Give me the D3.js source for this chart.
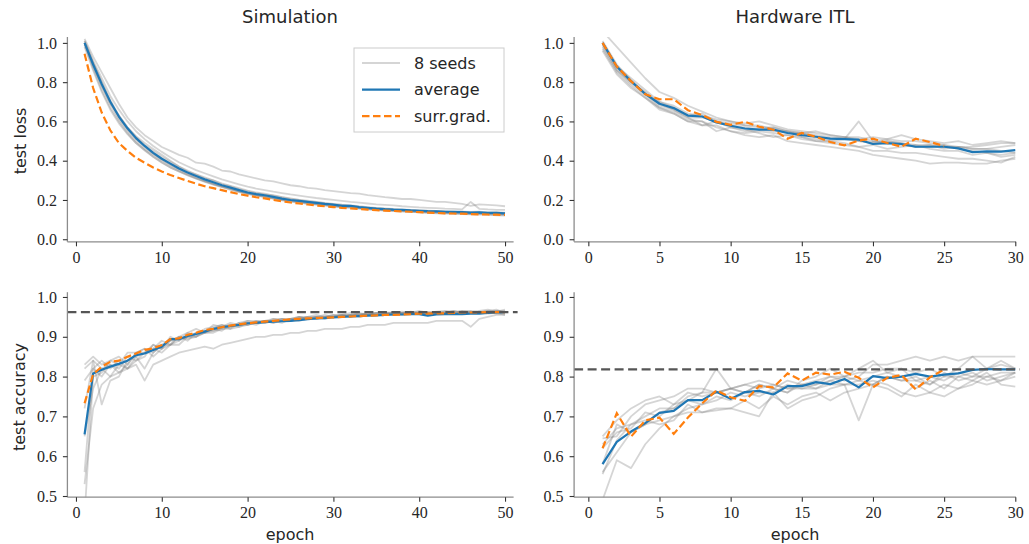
<!DOCTYPE html>
<html>
<head>
<meta charset="utf-8">
<script src="https://cdn.jsdelivr.net/npm/d3@7"></script>
<style>
  body { margin: 0; background: #fff; }
  .lab { font-family: "DejaVu Sans", sans-serif; fill: #262626; }
</style>
</head>
<body>
<svg id="fig" width="1029" height="544"></svg>
<script>
// epochs
const simEpochs = d3.range(1, 51);
const hwEpochs = d3.range(1, 31);

// ---- simulation, test loss ----
const simLossAvg = [1.00,0.89,0.79,0.70,0.625,0.565,0.515,0.475,0.44,0.41,0.385,0.36,0.34,0.322,0.305,0.29,0.275,0.263,0.25,0.238,0.23,0.224,0.216,0.207,0.2,0.195,0.19,0.185,0.18,0.176,0.17,0.17,0.164,0.16,0.156,0.153,0.151,0.15,0.147,0.145,0.143,0.142,0.14,0.139,0.138,0.136,0.137,0.134,0.134,0.132];
const simLossSG = [0.945,0.77,0.645,0.555,0.49,0.45,0.415,0.39,0.365,0.345,0.327,0.312,0.297,0.283,0.27,0.26,0.25,0.24,0.23,0.222,0.214,0.208,0.2,0.193,0.187,0.182,0.177,0.172,0.168,0.164,0.16,0.157,0.154,0.151,0.148,0.146,0.144,0.142,0.14,0.138,0.136,0.134,0.132,0.131,0.13,0.128,0.127,0.126,0.125,0.124];
const simLossSeeds = [
  [1.02,0.93,0.85,0.77,0.69,0.62,0.57,0.53,0.5,0.47,0.45,0.43,0.415,0.39,0.385,0.37,0.35,0.345,0.33,0.32,0.31,0.3,0.295,0.285,0.275,0.27,0.262,0.258,0.25,0.245,0.24,0.235,0.232,0.225,0.22,0.214,0.21,0.205,0.205,0.2,0.195,0.19,0.19,0.185,0.18,0.17,0.178,0.175,0.172,0.168],
  [1.01,0.91,0.82,0.73,0.66,0.6,0.55,0.51,0.475,0.445,0.418,0.392,0.372,0.352,0.336,0.32,0.305,0.292,0.28,0.268,0.258,0.25,0.242,0.235,0.228,0.222,0.216,0.21,0.205,0.2,0.195,0.19,0.186,0.182,0.178,0.175,0.172,0.168,0.165,0.162,0.16,0.158,0.156,0.155,0.152,0.19,0.155,0.152,0.15,0.15],
  [1.0,0.9,0.8,0.71,0.63,0.57,0.52,0.48,0.45,0.42,0.395,0.37,0.35,0.33,0.315,0.3,0.285,0.272,0.26,0.248,0.238,0.232,0.222,0.214,0.206,0.2,0.196,0.19,0.185,0.18,0.176,0.173,0.168,0.164,0.16,0.157,0.154,0.152,0.15,0.148,0.146,0.144,0.143,0.141,0.14,0.139,0.14,0.137,0.138,0.135],
  [0.99,0.87,0.76,0.67,0.6,0.54,0.49,0.455,0.42,0.39,0.365,0.345,0.325,0.308,0.292,0.278,0.265,0.252,0.24,0.23,0.222,0.215,0.208,0.2,0.194,0.188,0.182,0.178,0.172,0.168,0.164,0.162,0.157,0.154,0.15,0.147,0.145,0.143,0.14,0.138,0.136,0.134,0.133,0.131,0.13,0.128,0.13,0.126,0.125,0.124],
  [1.01,0.9,0.8,0.7,0.62,0.56,0.51,0.47,0.435,0.405,0.38,0.356,0.336,0.318,0.3,0.285,0.272,0.26,0.245,0.235,0.226,0.22,0.212,0.203,0.198,0.192,0.186,0.18,0.178,0.172,0.166,0.168,0.16,0.157,0.152,0.15,0.148,0.146,0.143,0.141,0.14,0.138,0.136,0.136,0.134,0.132,0.134,0.13,0.131,0.128],
  [0.98,0.86,0.75,0.66,0.59,0.535,0.49,0.452,0.42,0.392,0.366,0.345,0.328,0.31,0.295,0.28,0.268,0.255,0.242,0.232,0.224,0.216,0.206,0.198,0.19,0.186,0.18,0.176,0.172,0.166,0.162,0.16,0.156,0.152,0.148,0.146,0.143,0.141,0.139,0.137,0.135,0.132,0.13,0.13,0.128,0.127,0.126,0.125,0.122,0.12],
  [1.0,0.88,0.78,0.69,0.63,0.57,0.525,0.49,0.46,0.43,0.4,0.37,0.345,0.33,0.31,0.3,0.28,0.27,0.255,0.245,0.235,0.228,0.225,0.215,0.208,0.2,0.193,0.19,0.183,0.178,0.175,0.17,0.165,0.16,0.158,0.155,0.152,0.148,0.148,0.145,0.142,0.145,0.14,0.138,0.14,0.135,0.136,0.133,0.132,0.13],
  [1.0,0.89,0.78,0.69,0.61,0.55,0.5,0.46,0.43,0.4,0.375,0.35,0.33,0.312,0.296,0.282,0.268,0.256,0.244,0.234,0.225,0.218,0.21,0.202,0.196,0.19,0.185,0.18,0.176,0.17,0.168,0.165,0.16,0.156,0.153,0.15,0.147,0.145,0.143,0.14,0.138,0.137,0.135,0.133,0.132,0.131,0.13,0.128,0.127,0.126]
];

// ---- hardware ITL, test loss ----
const hwLossAvg = [1.0,0.88,0.805,0.74,0.69,0.668,0.63,0.625,0.595,0.578,0.564,0.558,0.558,0.541,0.53,0.522,0.512,0.51,0.507,0.485,0.49,0.485,0.471,0.471,0.471,0.463,0.444,0.448,0.446,0.454];
const hwLossSG = [1.0,0.88,0.805,0.738,0.713,0.713,0.657,0.632,0.598,0.583,0.598,0.573,0.558,0.512,0.541,0.522,0.495,0.478,0.503,0.512,0.49,0.471,0.512,0.495,0.475];
const hwLossSeeds = [
  [1.06,0.98,0.9,0.82,0.75,0.72,0.68,0.65,0.62,0.6,0.58,0.57,0.57,0.55,0.54,0.53,0.52,0.51,0.5,0.495,0.5,0.49,0.48,0.48,0.47,0.47,0.46,0.46,0.45,0.44],
  [0.97,0.85,0.78,0.72,0.67,0.64,0.6,0.6,0.57,0.55,0.53,0.52,0.53,0.5,0.49,0.48,0.47,0.46,0.45,0.43,0.42,0.41,0.4,0.385,0.39,0.39,0.385,0.385,0.4,0.41],
  [0.99,0.86,0.79,0.73,0.67,0.65,0.61,0.6,0.55,0.57,0.55,0.56,0.55,0.55,0.52,0.51,0.5,0.51,0.6,0.5,0.49,0.48,0.47,0.48,0.46,0.47,0.46,0.46,0.47,0.48],
  [1.0,0.87,0.8,0.74,0.7,0.68,0.64,0.63,0.61,0.6,0.59,0.6,0.58,0.56,0.55,0.54,0.53,0.52,0.51,0.52,0.51,0.53,0.51,0.5,0.49,0.5,0.48,0.49,0.5,0.49],
  [0.98,0.86,0.8,0.75,0.69,0.66,0.62,0.58,0.6,0.57,0.56,0.54,0.52,0.53,0.51,0.5,0.5,0.49,0.47,0.48,0.46,0.47,0.48,0.46,0.45,0.45,0.43,0.44,0.42,0.43],
  [1.01,0.89,0.81,0.74,0.68,0.66,0.62,0.62,0.6,0.58,0.57,0.56,0.57,0.55,0.54,0.55,0.53,0.52,0.52,0.5,0.51,0.5,0.5,0.49,0.48,0.47,0.47,0.48,0.49,0.49],
  [0.96,0.84,0.77,0.72,0.66,0.64,0.6,0.58,0.58,0.55,0.54,0.55,0.54,0.53,0.52,0.5,0.49,0.48,0.47,0.45,0.45,0.44,0.44,0.43,0.42,0.41,0.41,0.4,0.39,0.42],
  [1.0,0.88,0.82,0.76,0.7,0.67,0.63,0.64,0.6,0.59,0.58,0.58,0.56,0.54,0.54,0.52,0.51,0.52,0.5,0.49,0.5,0.49,0.47,0.47,0.48,0.46,0.45,0.44,0.43,0.44]
];

// ---- simulation, test accuracy ----
const simAccAvg = [0.655,0.808,0.817,0.825,0.832,0.84,0.854,0.858,0.867,0.875,0.894,0.894,0.902,0.907,0.913,0.92,0.924,0.927,0.93,0.934,0.935,0.937,0.938,0.939,0.94,0.942,0.944,0.946,0.947,0.949,0.95,0.951,0.952,0.953,0.954,0.955,0.956,0.956,0.957,0.957,0.953,0.956,0.957,0.957,0.957,0.958,0.958,0.96,0.961,0.962];
const simAccSG = [0.733,0.806,0.825,0.837,0.84,0.85,0.858,0.867,0.871,0.879,0.894,0.896,0.905,0.91,0.917,0.92,0.924,0.928,0.931,0.934,0.936,0.938,0.94,0.942,0.944,0.945,0.946,0.947,0.948,0.949,0.95,0.951,0.952,0.953,0.954,0.955,0.955,0.956,0.957,0.958,0.958,0.959,0.959,0.96,0.961,0.961,0.961,0.962,0.962,0.962];
const simAccSeeds = [
  [0.53,0.72,0.78,0.8,0.81,0.82,0.83,0.79,0.83,0.84,0.85,0.86,0.865,0.87,0.875,0.87,0.88,0.885,0.89,0.895,0.9,0.9,0.905,0.905,0.91,0.91,0.915,0.915,0.92,0.92,0.92,0.925,0.925,0.93,0.93,0.93,0.935,0.935,0.935,0.935,0.935,0.94,0.94,0.94,0.94,0.925,0.945,0.95,0.955,0.955],
  [0.83,0.85,0.83,0.84,0.85,0.83,0.86,0.87,0.86,0.88,0.89,0.9,0.91,0.9,0.92,0.925,0.93,0.925,0.935,0.94,0.935,0.94,0.945,0.94,0.945,0.95,0.945,0.95,0.955,0.95,0.955,0.96,0.955,0.96,0.96,0.962,0.96,0.963,0.96,0.965,0.96,0.963,0.965,0.96,0.965,0.962,0.965,0.968,0.962,0.965],
  [0.79,0.82,0.8,0.83,0.82,0.85,0.84,0.86,0.88,0.87,0.9,0.89,0.91,0.92,0.91,0.93,0.925,0.935,0.93,0.94,0.94,0.935,0.945,0.945,0.94,0.95,0.95,0.955,0.95,0.955,0.955,0.95,0.96,0.955,0.96,0.958,0.962,0.958,0.963,0.96,0.962,0.958,0.96,0.965,0.96,0.963,0.96,0.965,0.968,0.96],
  [0.45,0.8,0.81,0.84,0.83,0.82,0.85,0.86,0.87,0.86,0.88,0.88,0.9,0.905,0.91,0.915,0.92,0.925,0.93,0.93,0.935,0.94,0.935,0.94,0.945,0.94,0.945,0.95,0.945,0.95,0.955,0.95,0.955,0.955,0.958,0.955,0.96,0.955,0.96,0.962,0.955,0.96,0.962,0.958,0.962,0.96,0.963,0.96,0.965,0.962],
  [0.72,0.84,0.73,0.79,0.8,0.84,0.85,0.82,0.86,0.88,0.88,0.9,0.89,0.91,0.915,0.92,0.915,0.93,0.925,0.935,0.93,0.94,0.94,0.935,0.945,0.945,0.95,0.945,0.95,0.95,0.952,0.955,0.95,0.955,0.955,0.958,0.955,0.96,0.958,0.96,0.955,0.96,0.958,0.962,0.96,0.96,0.962,0.958,0.96,0.955],
  [0.65,0.77,0.82,0.8,0.83,0.86,0.86,0.87,0.85,0.87,0.89,0.895,0.9,0.9,0.91,0.91,0.92,0.92,0.925,0.93,0.935,0.935,0.94,0.94,0.94,0.945,0.945,0.945,0.95,0.95,0.95,0.955,0.952,0.955,0.955,0.955,0.958,0.958,0.958,0.96,0.958,0.958,0.96,0.96,0.958,0.962,0.96,0.962,0.958,0.96],
  [0.56,0.82,0.84,0.82,0.84,0.82,0.84,0.85,0.88,0.87,0.88,0.9,0.895,0.9,0.91,0.92,0.93,0.92,0.935,0.93,0.94,0.94,0.935,0.945,0.945,0.95,0.945,0.95,0.948,0.952,0.955,0.955,0.958,0.955,0.96,0.96,0.955,0.96,0.962,0.96,0.962,0.96,0.963,0.965,0.962,0.965,0.962,0.965,0.963,0.968],
  [0.82,0.84,0.82,0.83,0.81,0.83,0.86,0.86,0.87,0.89,0.88,0.89,0.9,0.91,0.915,0.915,0.925,0.93,0.93,0.935,0.935,0.94,0.94,0.945,0.94,0.945,0.95,0.95,0.95,0.955,0.95,0.955,0.955,0.96,0.955,0.96,0.96,0.96,0.962,0.958,0.96,0.962,0.96,0.96,0.965,0.963,0.96,0.962,0.965,0.963]
];

// ---- hardware ITL, test accuracy ----
const hwAccAvg = [0.58,0.636,0.662,0.683,0.709,0.714,0.741,0.741,0.762,0.744,0.761,0.764,0.755,0.776,0.776,0.786,0.781,0.794,0.773,0.801,0.796,0.8,0.807,0.8,0.805,0.808,0.817,0.819,0.818,0.818];
const hwAccSG = [0.62,0.708,0.649,0.69,0.697,0.656,0.697,0.733,0.765,0.748,0.739,0.776,0.773,0.808,0.79,0.81,0.805,0.812,0.797,0.773,0.797,0.804,0.768,0.798,0.818];
const hwAccSeeds = [
  [0.49,0.59,0.57,0.63,0.67,0.7,0.71,0.71,0.715,0.72,0.71,0.7,0.76,0.72,0.74,0.75,0.77,0.78,0.79,0.78,0.8,0.79,0.8,0.78,0.81,0.79,0.8,0.8,0.81,0.81],
  [0.645,0.65,0.7,0.73,0.74,0.75,0.77,0.77,0.76,0.77,0.78,0.77,0.78,0.77,0.77,0.78,0.79,0.78,0.69,0.78,0.8,0.79,0.79,0.78,0.8,0.8,0.79,0.81,0.78,0.775],
  [0.56,0.61,0.66,0.68,0.69,0.7,0.72,0.73,0.75,0.74,0.76,0.75,0.77,0.76,0.78,0.78,0.8,0.79,0.8,0.83,0.83,0.84,0.85,0.84,0.85,0.84,0.85,0.85,0.85,0.85],
  [0.63,0.67,0.68,0.7,0.72,0.72,0.75,0.76,0.82,0.77,0.76,0.78,0.77,0.79,0.78,0.79,0.8,0.8,0.81,0.81,0.82,0.82,0.81,0.82,0.8,0.82,0.85,0.82,0.84,0.82],
  [0.555,0.64,0.68,0.69,0.68,0.69,0.73,0.71,0.72,0.72,0.74,0.72,0.75,0.73,0.75,0.76,0.74,0.76,0.77,0.78,0.77,0.75,0.78,0.76,0.78,0.77,0.79,0.78,0.79,0.81],
  [0.62,0.66,0.67,0.71,0.7,0.73,0.76,0.75,0.76,0.77,0.76,0.78,0.77,0.76,0.79,0.8,0.82,0.8,0.82,0.84,0.81,0.82,0.79,0.8,0.79,0.81,0.8,0.82,0.83,0.82],
  [0.58,0.68,0.66,0.68,0.71,0.72,0.74,0.76,0.76,0.77,0.78,0.79,0.78,0.77,0.78,0.77,0.79,0.8,0.79,0.8,0.81,0.8,0.77,0.79,0.77,0.8,0.81,0.79,0.8,0.81],
  [0.65,0.69,0.72,0.74,0.75,0.73,0.74,0.73,0.74,0.76,0.75,0.76,0.76,0.78,0.77,0.77,0.78,0.78,0.78,0.79,0.78,0.76,0.75,0.76,0.75,0.77,0.78,0.8,0.79,0.8]
];

// reference accuracy levels (dashed)
const simAccRef = 0.962;
const hwAccRef = 0.818;

const simXTicks = [0, 10, 20, 30, 40, 50];
const hwXTicks = [0, 5, 10, 15, 20, 25, 30];
const lossYTicks = [0.0, 0.2, 0.4, 0.6, 0.8, 1.0];
const accYTicks = [0.5, 0.6, 0.7, 0.8, 0.9, 1.0];

const svg = d3.select("#fig");
const tickFont = "'Liberation Serif', 'DejaVu Serif', 'Times New Roman', serif";

const colLeft = [67.4, 513.6], colRight = [574.1, 1016];
const rowTop = [241.8, 37], rowBot = [497.2, 292.2];

const panels = [
  {id: "tl", xr: colLeft, yr: rowTop, xd: [-1, 51], yd: [-0.013, 1.03], xt: simXTicks, yt: lossYTicks,
   ep: simEpochs, seeds: simLossSeeds, avg: simLossAvg, sg: simLossSG, ref: null},
  {id: "tr", xr: colRight, yr: rowTop, xd: [-1, 30.05], yd: [-0.013, 1.03], xt: hwXTicks, yt: lossYTicks,
   ep: hwEpochs, seeds: hwLossSeeds, avg: hwLossAvg, sg: hwLossSG, ref: null},
  {id: "bl", xr: colLeft, yr: rowBot, xd: [-1, 51], yd: [0.497, 1.012], xt: simXTicks, yt: accYTicks,
   ep: simEpochs, seeds: simAccSeeds, avg: simAccAvg, sg: simAccSG, ref: simAccRef},
  {id: "br", xr: colRight, yr: rowBot, xd: [-1, 30.05], yd: [0.497, 1.012], xt: hwXTicks, yt: accYTicks,
   ep: hwEpochs, seeds: hwAccSeeds, avg: hwAccAvg, sg: hwAccSG, ref: hwAccRef}
];

panels.forEach(p => {
  const x = d3.scaleLinear().domain(p.xd).range(p.xr);
  const y = d3.scaleLinear().domain(p.yd).range(p.yr);
  const g = svg.append("g");

  svg.append("clipPath").attr("id", "clip-" + p.id)
    .append("rect")
    .attr("x", p.xr[0]).attr("y", p.yr[1])
    .attr("width", p.xr[1] - p.xr[0] + 4).attr("height", p.yr[0] - p.yr[1]);

  const plot = g.append("g").attr("clip-path", "url(#clip-" + p.id + ")");
  const line = vals => d3.line().x((d, i) => x(p.ep[i])).y(d => y(d))(vals);

  p.seeds.forEach(s => {
    plot.append("path").attr("d", line(s))
      .attr("fill", "none").attr("stroke", "#808080")
      .attr("stroke-opacity", 0.33).attr("stroke-width", 1.8)
      .attr("stroke-linejoin", "round");
  });

  if (p.ref !== null) {
    g.append("line")
      .attr("x1", p.xr[0]).attr("x2", p.xr[1] + 4)
      .attr("y1", y(p.ref)).attr("y2", y(p.ref))
      .attr("stroke", "#555").attr("stroke-width", 2.2)
      .attr("stroke-dasharray", "9,4.5");
  }

  plot.append("path").attr("d", line(p.avg))
    .attr("fill", "none").attr("stroke", "#1f77b4").attr("stroke-width", 2.2)
    .attr("stroke-linejoin", "round");
  plot.append("path").attr("d", line(p.sg))
    .attr("fill", "none").attr("stroke", "#ff7f0e").attr("stroke-width", 2.2)
    .attr("stroke-dasharray", "7.5,3.5");

  // axes
  const xa = g.append("g").attr("transform", `translate(0,${p.yr[0]})`)
    .call(d3.axisBottom(x).tickValues(p.xt).tickSize(4.5).tickPadding(5).tickFormat(d3.format("d")));
  const ya = g.append("g").attr("transform", `translate(${p.xr[0]},0)`)
    .call(d3.axisLeft(y).tickValues(p.yt).tickSize(4.5).tickPadding(6).tickFormat(d3.format(".1f")));
  [xa, ya].forEach(a => {
    a.attr("font-family", tickFont).attr("font-size", 16);
    a.select(".domain").attr("stroke", "#8c8c8c").attr("stroke-width", 1.3);
    a.selectAll(".tick line").attr("stroke", "#333").attr("stroke-width", 1.1);
    a.selectAll(".tick text").attr("fill", "#262626");
  });
  xa.select(".domain").attr("d", `M${p.xr[0]},0H${p.xr[1]}`);
  ya.select(".domain").attr("d", `M0,${p.yr[0]}V${p.yr[1]}`);
});

// titles and labels
const lab = (t, x0, y0, size, rot) => {
  const t0 = svg.append("text").attr("class", "lab").text(t)
    .attr("text-anchor", "middle").attr("font-size", size);
  if (rot) t0.attr("transform", `translate(${x0},${y0}) rotate(-90)`);
  else t0.attr("x", x0).attr("y", y0);
};
lab("Simulation", 290, 23, 18, false);
lab("Hardware ITL", 795, 23, 18, false);
lab("test loss", 26, 141, 16, true);
lab("test accuracy", 25, 397, 16, true);
lab("epoch", 290, 540, 16, false);
lab("epoch", 795, 540, 16, false);

// legend
const legItems = [
  {name: "8 seeds", color: "#808080", op: 0.33, dash: null},
  {name: "average", color: "#1f77b4", op: 1, dash: null},
  {name: "surr.grad.", color: "#ff7f0e", op: 1, dash: "7.5,3.5"}
];
const leg = svg.append("g");
leg.append("rect").attr("x", 354).attr("y", 48).attr("width", 150).attr("height", 84)
  .attr("fill", "#fff").attr("stroke", "#cccccc").attr("stroke-width", 1);
legItems.forEach((d, i) => {
  const yy = 63 + i * 26.6;
  leg.append("line").attr("x1", 362).attr("x2", 400).attr("y1", yy).attr("y2", yy)
    .attr("stroke", d.color).attr("stroke-opacity", d.op).attr("stroke-width", 2.2)
    .attr("stroke-dasharray", d.dash);
  leg.append("text").attr("class", "lab").attr("x", 414).attr("y", yy + 5.5)
    .attr("font-size", 16).text(d.name);
});
</script>
</body>
</html>
